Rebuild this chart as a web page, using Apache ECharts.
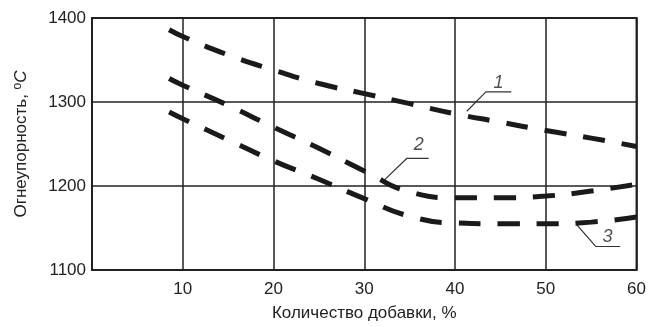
<!DOCTYPE html>
<html>
<head>
<meta charset="utf-8">
<script src="https://cdn.jsdelivr.net/npm/echarts@6/dist/echarts.min.js"></script>
<style>html,body{margin:0;padding:0;background:#fff}#c{width:649px;height:327px}</style>
</head>
<body>
<div id="c"></div>
<script>
var xTicks = [10, 20, 30, 40, 50, 60];
var yTicks = [1100, 1200, 1300, 1400];
var curve1 = [[8.5,1386],[10,1378],[15,1356],[20,1338],[25,1322],[30,1310],[35,1298],[40,1286],[45,1276],[50,1266],[55,1257],[60,1247]];
var curve2 = [[8.5,1328],[10,1320],[15,1296],[20,1270],[25,1245],[30,1218],[35,1193],[40,1186],[45,1186],[50,1188],[55,1194],[60,1202]];
var curve3 = [[8.5,1288],[10,1280],[15,1255],[20,1230],[25,1208],[30,1185],[35,1164],[40,1156],[45,1155],[50,1155],[55,1157],[60,1163]];
var leader1 = [[41.3,1289],[43.4,1312],[46.2,1312]];
var leader2 = [[32.2,1207],[34.7,1233],[37.1,1233]];
var leader3 = [[53.4,1154],[55.5,1128],[58.2,1128]];
var curveLabels = [[44.8,1323,'1'],[36.0,1249,'2'],[56.8,1139,'3']];

var FONT = 'Liberation Sans, Arial, sans-serif';
var chart = echarts.init(document.getElementById('c'));
var dashStyle = {color:'#1a1a1a', width:5, type:[22,17], cap:'butt'};
function curve(d){return {type:'line', data:d, smooth:true, symbol:'none', lineStyle:dashStyle, z:5, silent:true};}
function leader(d){return {type:'line', data:d, symbol:'none', lineStyle:{color:'#333', width:1.2}, z:4, silent:true};}
chart.setOption({
  animation:false,
  grid:{left:92, right:11, top:18, bottom:54, show:true, borderColor:'#222', borderWidth:2, backgroundColor:'transparent'},
  xAxis:{type:'value', min:0, max:60, interval:10,
    axisLine:{show:false}, axisTick:{show:false},
    axisLabel:{color:'#222', fontSize:17, fontFamily:FONT, margin:11,
      formatter:function(v){return xTicks.indexOf(v)>=0 ? String(v) : '';}},
    splitLine:{show:true, lineStyle:{color:'#222', width:1.5}},
    name:'Количество добавки, %', nameLocation:'middle', nameGap:35,
    nameTextStyle:{color:'#222', fontSize:17, fontFamily:FONT}},
  yAxis:{type:'value', min:1100, max:1400, interval:100,
    axisLine:{show:false}, axisTick:{show:false},
    axisLabel:{color:'#222', fontSize:17, fontFamily:FONT, margin:6,
      formatter:function(v){return yTicks.indexOf(v)>=0 ? String(v) : '';}},
    splitLine:{show:true, lineStyle:{color:'#222', width:1.5}},
    name:'{a|Огнеупорность, }{s|o}{i|C}', nameLocation:'middle', nameGap:61,
    nameTextStyle:{rich:{
      a:{color:'#222', fontSize:17, fontFamily:FONT},
      s:{color:'#222', fontSize:12, fontFamily:FONT, verticalAlign:'top', padding:[0,0,7,0]},
      i:{color:'#222', fontSize:17, fontStyle:'italic', fontFamily:FONT}}}},
  series:[
    curve(curve1), curve(curve2), curve(curve3),
    leader(leader1), leader(leader2), leader(leader3),
    {type:'scatter', data:curveLabels, symbolSize:0, silent:true, z:6,
      label:{show:true, position:'inside', formatter:function(p){return p.data[2];},
        color:'#222', fontSize:18, fontStyle:'italic', fontFamily:FONT}}
  ]
});
</script>
</body>
</html>
